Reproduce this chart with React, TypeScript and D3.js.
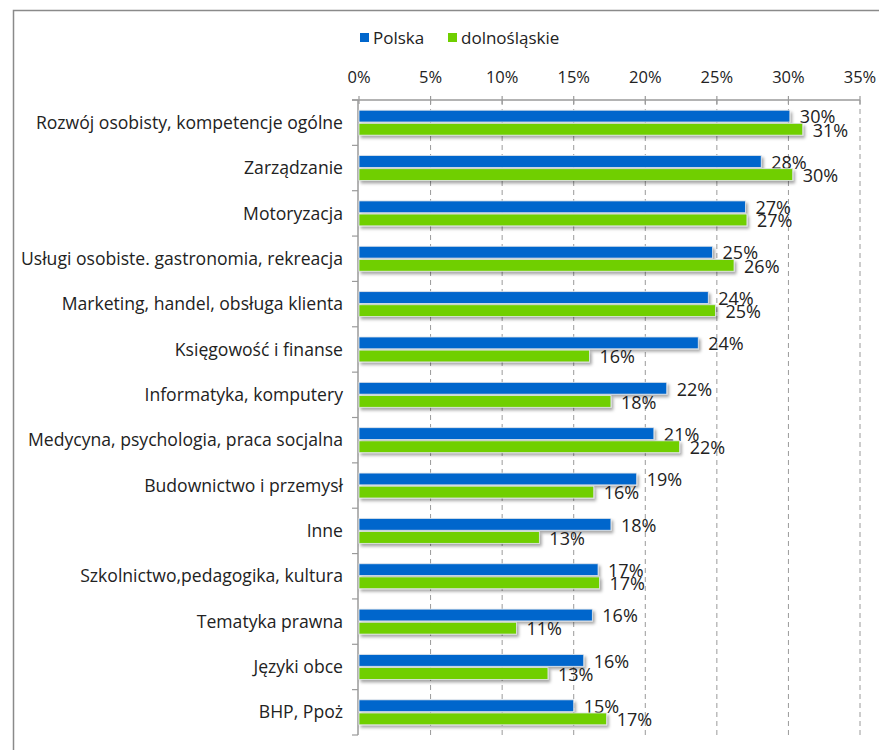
import React from "react";
import * as d3 from "d3";

const categories = [
  "Rozwój osobisty, kompetencje ogólne",
  "Zarządzanie",
  "Motoryzacja",
  "Usługi osobiste. gastronomia, rekreacja",
  "Marketing, handel, obsługa klienta",
  "Księgowość i finanse",
  "Informatyka, komputery",
  "Medycyna, psychologia, praca socjalna",
  "Budownictwo i przemysł",
  "Inne",
  "Szkolnictwo,pedagogika, kultura",
  "Tematyka prawna",
  "Języki obce",
  "BHP, Ppoż",
];
const polska = [30.1, 28.1, 27.0, 24.7, 24.4, 23.7, 21.5, 20.6, 19.4, 17.6, 16.7, 16.3, 15.7, 15.0];
const dolnoslaskie = [31.0, 30.3, 27.1, 26.2, 24.9, 16.1, 17.6, 22.4, 16.4, 12.6, 16.8, 11.0, 13.2, 17.3];
const seriesNames = ["Polska", "dolnośląskie"];
const seriesColors = ["#0066cc", "#6fcf00"];
const xTicks = [0, 5, 10, 15, 20, 25, 30, 35];

const W = 879;
const H = 750;
const FONT = "'Open Sans', sans-serif";

export default function App() {
  const x = d3.scaleLinear().domain([0, 35]).range([359, 860]);
  const y = d3.scaleBand<string>().domain(categories).range([100, 735]).paddingInner(0.45).paddingOuter(0.225);
  const inner = d3.scaleBand<number>().domain([0, 1]).range([0, y.bandwidth()]).paddingInner(0.1);
  const series = [polska, dolnoslaskie];
  const step = y.step();
  const top = 100;
  const bottom = 735;

  return (
    <svg width={W} height={H} style={{ position: "absolute", left: 0, top: 0, background: "#fff" }} fontFamily={FONT}>
      <defs>
        <filter id="shadow" x="-5%" y="-50%" width="110%" height="220%">
          <feDropShadow dx="2" dy="2.5" stdDeviation="1.5" floodColor="#000" floodOpacity="0.35" />
        </filter>
      </defs>
      <rect x={13.5} y={10.5} width={W + 20} height={H + 20} fill="#fff" stroke="#8a8a8a" strokeWidth={1.5} />

      {/* legend */}
      {seriesNames.map((s, i) => {
        const lx = i === 0 ? 360 : 448;
        return (
          <g key={s}>
            <rect x={lx} y={33} width={9} height={9} fill={seriesColors[i]} />
            <text x={lx + 13} y={38} dy="0.35em" fontSize={17} fill="#222">{s}</text>
          </g>
        );
      })}

      {/* gridlines */}
      {xTicks.slice(1).map((t) => (
        <line key={"g" + t} x1={x(t)} x2={x(t)} y1={top} y2={bottom} stroke="#9a9a9a" strokeWidth={1} strokeDasharray="5,4" />
      ))}
      {/* x axis */}
      <line x1={352} x2={x(35)} y1={top} y2={top} stroke="#9a9a9a" strokeWidth={1.5} />
      {xTicks.map((t) => (
        <g key={"t" + t}>
          <line x1={x(t)} x2={x(t)} y1={top - 4} y2={top + 4} stroke="#9a9a9a" strokeWidth={1.2} />
          <text x={x(t)} y={77} textAnchor="middle" dy="0.35em" fontSize={16.5} fill="#222">{t}%</text>
        </g>
      ))}
      {/* y axis */}
      <line x1={x(0) - 1} x2={x(0) - 1} y1={top} y2={bottom} stroke="#9a9a9a" strokeWidth={1.5} />
      {d3.range(categories.length + 1).map((i) => (
        <line key={"yt" + i} x1={352} x2={358} y1={top + i * step} y2={top + i * step} stroke="#9a9a9a" strokeWidth={1.2} />
      ))}

      {categories.map((c, ci) => {
        const y0 = y(c)!;
        return (
          <g key={c}>
            <text x={343} y={top + ci * step + step / 2} textAnchor="end" dy="0.35em" fontSize={17.6} fill="#222">{c}</text>
            {series.map((vals, si) => {
              const by = y0 + inner(si)!;
              const bh = inner.bandwidth();
              return (
                <g key={si}>
                  <rect x={x(0)} y={by} width={x(vals[ci]) - x(0)} height={bh} fill={seriesColors[si]} stroke="#e2e6ea" strokeWidth={0.8} filter="url(#shadow)" />
                  <text x={x(vals[ci]) + 10} y={by + bh / 2 + 1} dy="0.35em" fontSize={18} fill="#222">{Math.round(vals[ci])}%</text>
                </g>
              );
            })}
          </g>
        );
      })}
    </svg>
  );
}
